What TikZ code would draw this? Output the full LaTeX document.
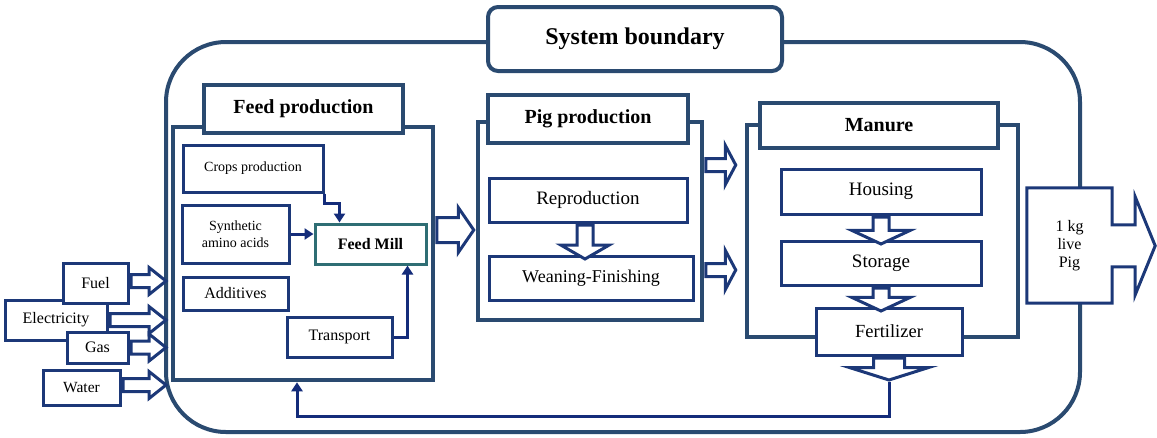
\documentclass[tikz,border=0pt]{standalone}
\usepackage{fontspec}
\setmainfont{Liberation Serif}
\usepackage{xcolor}
\usepackage{tikz}
\usetikzlibrary{shapes, arrows.meta, positioning}

\definecolor{groupblue}{HTML}{2A4A70}
\definecolor{boxblue}{HTML}{1C3878}
\definecolor{lineblue}{HTML}{142C7A}
\definecolor{millteal}{HTML}{2F6E74}

\begin{document}
\begin{tikzpicture}[
    x=1pt, y=-1pt,
    boundary/.style={rectangle, draw=groupblue, line width=4pt, rounded corners=60pt},
    label/.style={rectangle, draw=groupblue, line width=4pt, fill=white, rounded corners=10pt, font=\bfseries\fontsize{24}{26}\selectfont},
    group/.style={rectangle, draw=groupblue, line width=4.5pt, fill=white},
    title/.style={rectangle, draw=groupblue, line width=4.5pt, fill=white, font=\bfseries\fontsize{20}{22}\selectfont},
    unit/.style={rectangle, draw=boxblue, line width=3pt, fill=white, font=\fontsize{19}{21}\selectfont},
    small/.style={rectangle, draw=boxblue, line width=3pt, fill=white, font=\fontsize{16}{17}\selectfont, align=center},
    flow/.style={-{Triangle[length=9pt, width=11pt]}, draw=lineblue, line width=3pt},
    block/.style={single arrow, draw=boxblue, line width=3pt, fill=white, inner xsep=0pt, single arrow head indent=0pt, anchor=tail}
]
    \useasboundingbox (0,0) rectangle (1157,437);

    % System boundary
    \node[boundary, minimum width=914pt, minimum height=390pt] (sysb) at (623,237) {};
    \node[label, minimum width=294pt, minimum height=64pt] (sysl) at (635,39) {System boundary};

    % Feed production nodes
    \node[group, minimum width=260pt, minimum height=253pt] (feed) at (303,253.5) {};
    \node[title, minimum width=199pt, minimum height=48pt] (feedt) at (303.5,109) {Feed production};
    \node[small, font=\fontsize{14}{16}\selectfont, minimum width=140pt, minimum height=47pt] (crops) at (253,168.5) {Crops production};
    \node[small, font=\fontsize{14}{16.5}\selectfont, minimum width=107pt, minimum height=58pt] (amino) at (235.5,234) {Synthetic\\amino acids};
    \node[small, draw=millteal, font=\bfseries\fontsize{16}{17}\selectfont, minimum width=111pt, minimum height=40pt] (mill) at (370.5,244) {Feed Mill};
    \node[small, minimum width=105pt, minimum height=33pt] (additives) at (235.5,293.5) {Additives};
    \node[small, minimum width=105pt, minimum height=40pt] (transport) at (339.5,337) {Transport};

    % Inputs
    \node[small, minimum width=102pt, minimum height=40pt, text depth=4pt] (elec) at (56,320) {Electricity};
    \node[small, minimum width=65pt, minimum height=40pt] (fuel) at (95.5,283) {Fuel};
    \node[small, minimum width=61pt, minimum height=31pt] (gas) at (97.5,347.5) {Gas};
    \node[small, font=\fontsize{15.5}{17}\selectfont, minimum width=77pt, minimum height=35pt] (water) at (81.5,387.5) {Water};

    % Pig production nodes
    \node[group, minimum width=224pt, minimum height=198pt] (pig) at (590,221) {};
    \node[title, minimum width=200pt, minimum height=48pt] (pigt) at (588,119) {Pig production};
    \node[unit, minimum width=198pt, minimum height=44pt] (repro) at (588,200) {Reproduction};
    \node[unit, font=\fontsize{18}{20}\selectfont, minimum width=204pt, minimum height=44pt] (wean) at (591,278) {Weaning-Finishing};

    % Manure nodes
    \node[group, minimum width=271pt, minimum height=212pt] (manure) at (882.5,231) {};
    \node[title, minimum width=238pt, minimum height=45pt] (manuret) at (879,125.5) {Manure};
    \node[unit, minimum width=200pt, minimum height=45pt] (housing) at (881,191.5) {Housing};
    \node[unit, minimum width=200pt, minimum height=44pt] (storage) at (881,263) {Storage};
    \node[unit, font=\fontsize{18.5}{20}\selectfont, minimum width=146pt, minimum height=47pt] (fert) at (889,331.5) {Fertilizer};

    % Output
    \node[fill=white, minimum width=85pt, minimum height=115pt, align=center, font=\fontsize{16}{18}\selectfont] (live) at (1069.5,245.5) {1 kg\\live\\Pig};
    \draw[draw=boxblue, line width=3pt, line join=miter]
        (live.north east) -- ++(0,37) -- ++(23,0) -- ++(0,-28) -- ++(20,49) -- ++(-20,49)
        -- ++(0,-28) -- ++(-23,0) -- (live.south east) -- (live.south west)
        -- (live.north west) -- cycle;

    % Block arrows
    \node[block, minimum height=35pt, inner ysep=5pt, single arrow head extend=7pt, single arrow tip angle=77] (fuelin) at (fuel.east |- 0,281) {};
    \node[block, minimum height=56pt, inner ysep=5pt, single arrow head extend=7pt, single arrow tip angle=77] (elecin) at (elec.east) {};
    \node[block, minimum height=35pt, inner ysep=5pt, single arrow head extend=7pt, single arrow tip angle=77] (gasin) at (gas.east) {};
    \node[block, minimum height=43pt, inner ysep=5pt, single arrow head extend=7pt, single arrow tip angle=77] (waterin) at (water.east |- 0,385) {};
    \node[block, minimum height=37pt, inner ysep=11pt, single arrow head extend=10pt, single arrow tip angle=111] (feedout) at (feed.east |- 0,230) {};
    \node[block, minimum height=30pt, inner ysep=5pt, single arrow head extend=13pt, single arrow tip angle=124] (pigout1) at (pig.east |- 0,165) {};
    \node[block, minimum height=30pt, inner ysep=5pt, single arrow head extend=13pt, single arrow tip angle=124] (pigout2) at (pig.east |- 0,270) {};
    \node[block, rotate=-90, minimum height=34pt, inner ysep=6.5pt, single arrow head extend=16pt, single arrow tip angle=120] (reprodown) at ([xshift=-3pt]repro.south) {};
    \node[block, rotate=-90, minimum height=27pt, inner ysep=6.5pt, single arrow head extend=21pt, single arrow tip angle=130] (housedown) at (housing.south) {};
    \node[block, rotate=-90, minimum height=23pt, inner ysep=6.5pt, single arrow head extend=21pt, single arrow tip angle=130] (storedown) at (storage.south) {};
    \node[block, rotate=-90, minimum height=22pt, inner ysep=14pt, single arrow head extend=24pt, single arrow tip angle=145] (fertdown) at (fert.south) {};

    % Arrows
    \draw[flow] (crops.south east) -- ++(0,10) -| ([xshift=26pt]mill.north west);
    \draw[flow] (amino.east) -- (mill.west |- amino.east);
    \draw[flow] (transport.east) -| ([xshift=-20pt]mill.south east);
    \draw[flow] (fertdown.tip) -- ++(0,35) -| ([xshift=-6pt]feed.south);
\end{tikzpicture}
\end{document}
